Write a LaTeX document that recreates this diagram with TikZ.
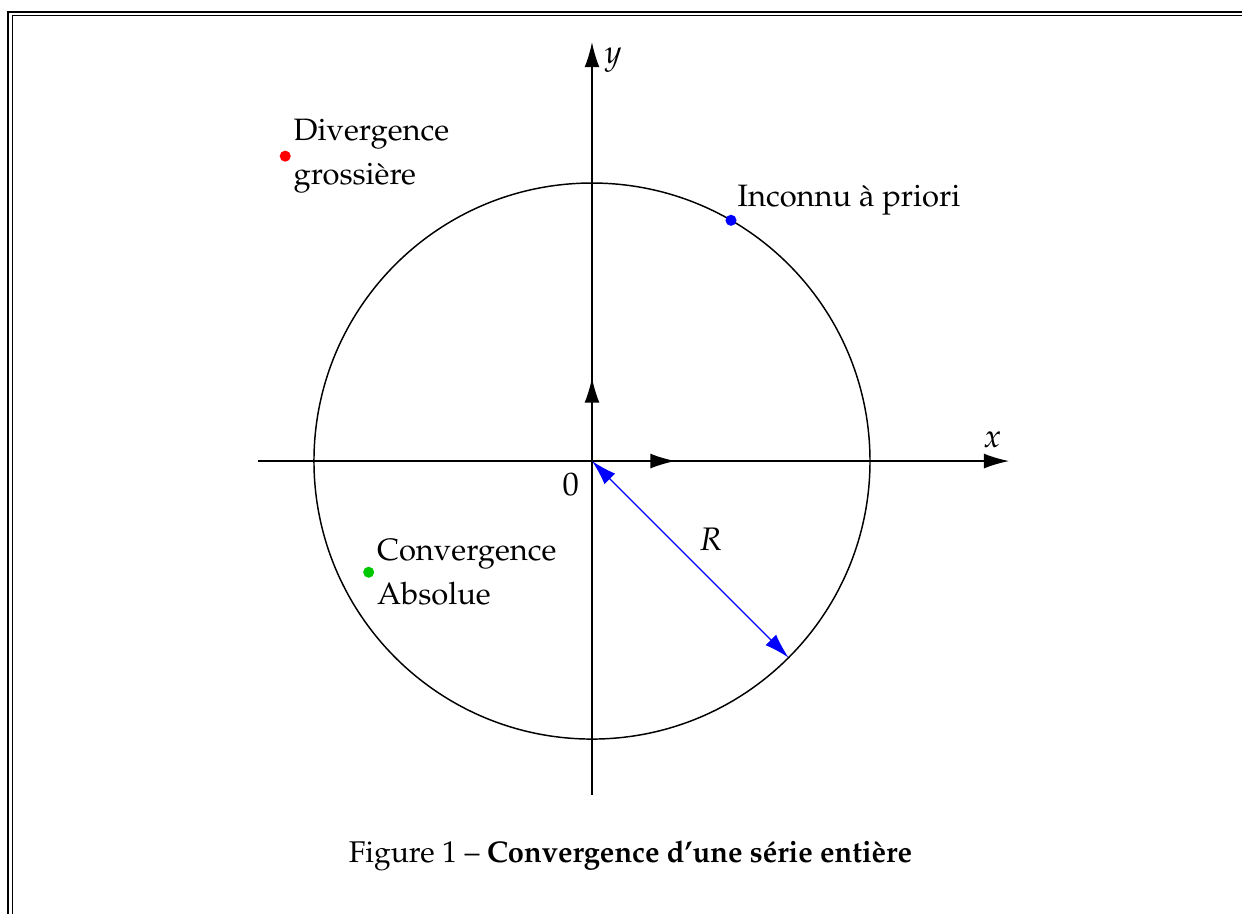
\documentclass[tikz,border=0pt]{standalone}
\usepackage[T1]{fontenc}
\usepackage{mathpazo}
\usepackage{graphicx}
\usetikzlibrary{arrows.meta}
\tikzset{
  axis/.style={line width=0.45pt,-{Latex[length=7.7pt,width=4.6pt]}},
  vec/.style={line width=0.45pt,-{Latex[length=7.7pt,width=4.6pt]}},
  pt/.style={circle,inner sep=0pt,minimum size=3.4pt},
  lbl/.style={font=\fontsize{9.5}{13.5}\selectfont,align=left,inner sep=1pt},
}
\definecolor{mygreen}{RGB}{0,200,0}
\begin{document}
\begin{tikzpicture}
\clip (-6.388,-4.877) rectangle (7.014,4.975);
% frame
\draw[line width=0.6pt] (-6.300,-6) -- (-6.300,4.842) -- (8,4.842);
\draw[line width=0.35pt] (-6.253,-6) -- (-6.253,4.804) -- (8,4.804);
% axes
\coordinate (O) at (0,0);
\coordinate (xs) at (-3.6,0);
\coordinate (xe) at (4.5,0);
\coordinate (ys) at (0,-3.6);
\coordinate (ye) at (0,4.52);
\coordinate (ex) at (0.9,0);
\coordinate (ey) at (0,0.9);
\draw[axis] (xs) -- (xe);
\draw[axis] (ys) -- (ye);
\draw[vec] (O) -- (ex);
\draw[vec] (O) -- (ey);
\node (xl) at (4.32,0.23) {$x$};
\node (yl) at (0.23,4.33) {$y$};
\node (zl) at (-0.23,-0.25) {$0$};
% circle
\draw[line width=0.45pt] (O) circle (3);
\coordinate (Rp) at (-45:3);
\draw[blue,line width=0.4pt,{Latex[length=7.7pt,width=4.6pt]}-{Latex[length=7.7pt,width=4.6pt]}] (O) -- (Rp);
\node (Rl) at (1.28,-0.84) {$R$};
% points
\node[pt,fill=red] (pr) at (-3.31,3.29) {};
\node[lbl,anchor=west] (tr) at ([xshift=-0.5pt]pr.east) {Divergence\\grossi\`ere};
\node[pt,fill=blue] (pb) at (60:3) {};
\node[lbl,anchor=south west] (tb) at ([xshift=-0.5pt,yshift=-1pt]pb.north east) {Inconnu \`a priori};
\node[pt,fill=mygreen] (pg) at (-2.41,-1.20) {};
\node[lbl,anchor=west] (tg) at ([xshift=-0.5pt]pg.east) {Convergence\\Absolue};
% caption
\node[font=\fontsize{9.2}{12}\selectfont] (cap) at (0.415,-4.265) {Figure 1 -- \scalebox{0.969}[1]{\bfseries Convergence d'une s\'erie enti\`ere}};
\end{tikzpicture}
\end{document}
